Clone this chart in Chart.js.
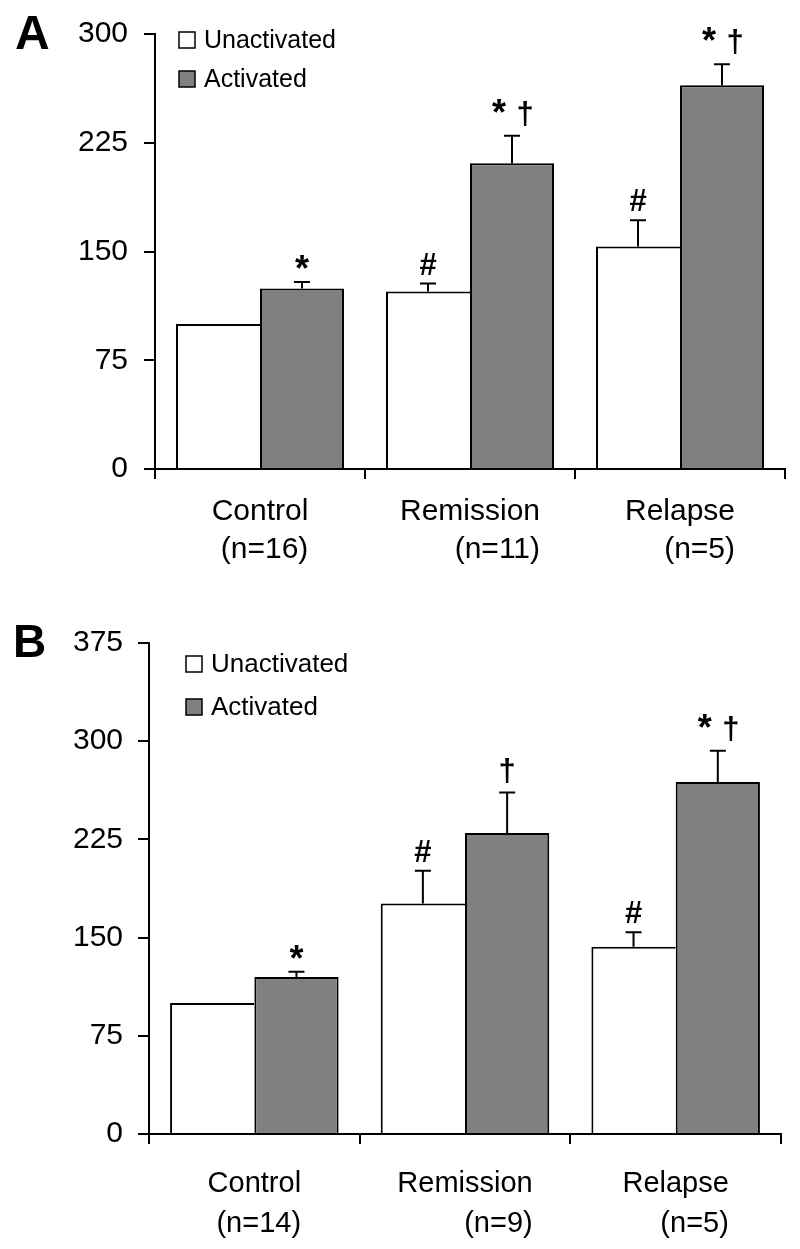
<!DOCTYPE html>
<html>
<head>
<meta charset="utf-8">
<script src="https://cdn.jsdelivr.net/npm/chart.js@4.4.1/dist/chart.umd.min.js"></script>
<style>
  html, body { margin: 0; padding: 0; background: #fff; }
  #boxA { position: absolute; left: 0; top: 0; width: 800px; height: 600px; }
  #boxB { position: absolute; left: 0; top: 600px; width: 800px; height: 649px; }
</style>
</head>
<body>
<div id="boxA"><canvas id="chartA" width="800" height="600"></canvas></div>
<div id="boxB"><canvas id="chartB" width="800" height="649"></canvas></div>
<script>
// data
var groups = ['Control', 'Remission', 'Relapse']
var seriesNames = ['Unactivated', 'Activated']

var nLabelsA = ['(n=16)', '(n=11)', '(n=5)']
var yTicksA = [0, 75, 150, 225, 300]
var unactA = [100, 122.4, 153.5]
var unactErrA = [0, 5.5, 18]
var actA = [124.5, 210.8, 264.7]
var actErrA = [4.5, 19, 14.5]
var unactMarksA = ['', '#', '#']
var actMarksA = ['*', '* †', '* †']

var nLabelsB = ['(n=14)', '(n=9)', '(n=5)']
var yTicksB = [0, 75, 150, 225, 300, 375]
var unactB = [100, 176, 143]
var unactErrB = [0, 25, 11]
var actB = [120, 229.8, 268.8]
var actErrB = [4, 31, 24]
var unactMarksB = ['', '#', '#']
var actMarksB = ['*', '†', '* †']

var FONT = '"Liberation Sans", Arial, Helvetica, sans-serif'
var GREY = '#808080'

function markFont(s) {
  return 'bold ' + (s == '*' ? 36 : 31) + 'px ' + FONT
}

function drawMark(ctx, mark, x, top) {
  ctx.textAlign = 'center'
  ctx.textBaseline = 'alphabetic'
  var parts = mark.split(' ')
  if (parts.length == 2) {
    ctx.font = markFont(parts[0])
    ctx.fillText(parts[0], x - 13, top - 11)
    ctx.font = markFont(parts[1])
    ctx.fillText(parts[1], x + 13, top - 12)
    return
  }
  var gap = 1
  if (mark == '#') gap = 9
  if (mark == '†') gap = 12
  ctx.font = markFont(mark)
  ctx.fillText(mark, x, top - gap)
}

var extras = {
  id: 'extras',
  afterDatasetsDraw: function(chart, args, o) {
    var ctx = chart.ctx
    var y = chart.scales.y
    ctx.save()
    ctx.strokeStyle = '#000'
    ctx.fillStyle = '#000'
    ctx.lineWidth = 2
    chart.data.datasets.forEach(function(ds, di) {
      chart.getDatasetMeta(di).data.forEach(function(bar, i) {
        var err = ds.errors[i]
        var top = y.getPixelForValue(ds.data[i] + err)
        if (err) {
          ctx.beginPath()
          ctx.moveTo(bar.x, bar.y)
          ctx.lineTo(bar.x, top)
          ctx.moveTo(bar.x - 8, top)
          ctx.lineTo(bar.x + 8, top)
          ctx.stroke()
        }
        if (ds.marks[i]) drawMark(ctx, ds.marks[i], bar.x, top)
      })
    })
    ctx.restore()
  },
  afterDraw: function(chart, args, o) {
    var ctx = chart.ctx
    var x = chart.scales.x
    ctx.save()
    ctx.fillStyle = '#000'
    // panel letter
    ctx.font = 'bold ' + o.letterSize + 'px ' + FONT
    ctx.textAlign = 'left'
    ctx.textBaseline = 'alphabetic'
    ctx.fillText(o.letter, o.letterX, o.letterY)
    // legend
    ctx.font = o.legendSize + 'px ' + FONT
    ctx.textBaseline = 'middle'
    chart.data.datasets.forEach(function(ds, i) {
      var bx = o.legendX, by = o.legendY + i * o.legendStep
      ctx.fillStyle = ds.backgroundColor
      ctx.fillRect(bx, by, 16, 16)
      ctx.strokeStyle = '#000'
      ctx.lineWidth = 1.5
      ctx.strokeRect(bx, by, 16, 16)
      ctx.fillStyle = '#000'
      ctx.fillText(ds.label, bx + 25, by + 9)
    })
    // second line of the category labels, right aligned under the first
    ctx.font = o.xFont + 'px ' + FONT
    ctx.textAlign = 'right'
    ctx.textBaseline = 'middle'
    for (var i = 0; i < groups.length; i++) {
      var px = x.getPixelForTick(i)
      var w = ctx.measureText(groups[i]).width
      ctx.fillText(o.nLabels[i], px + w / 2, x.top + o.line2)
    }
    ctx.restore()
  }
}

function buildChart(id, o) {
  return new Chart(document.getElementById(id), {
    type: 'bar',
    data: {
      labels: groups,
      datasets: [{
        label: seriesNames[0],
        data: o.unact,
        errors: o.unactErr,
        marks: o.unactMarks,
        backgroundColor: '#ffffff',
        borderColor: '#000000',
        borderWidth: {top: 2, left: 2, right: 0, bottom: 0}
      }, {
        label: seriesNames[1],
        data: o.act,
        errors: o.actErr,
        marks: o.actMarks,
        backgroundColor: GREY,
        borderColor: '#000000',
        borderWidth: {top: 2, left: 2, right: 2, bottom: 0}
      }]
    },
    options: {
      responsive: false,
      animation: false,
      events: [],
      datasets: {bar: {barPercentage: 1, categoryPercentage: 0.8}},
      layout: {padding: {top: o.padTop, right: o.padRight, left: 0, bottom: 0}},
      plugins: {legend: {display: false}, tooltip: {enabled: false}, extras: o},
      scales: {
        x: {
          z: 1,
          grid: {offset: true, drawOnChartArea: false, color: '#000', lineWidth: 2, tickLength: 10},
          border: {color: '#000', width: 2},
          ticks: {color: '#000', font: {family: FONT, size: o.xFont}, padding: o.xPad, maxRotation: 0, autoSkip: false},
          afterFit: function(s) { s.height = o.xHeight }
        },
        y: {
          z: 1,
          min: o.yTicks[0],
          max: o.yTicks[o.yTicks.length - 1],
          afterBuildTicks: function(s) { s.ticks = o.yTicks.map(function(v) { return {value: v} }) },
          grid: {drawOnChartArea: false, color: '#000', lineWidth: 2, tickLength: 11},
          border: {color: '#000', width: 2},
          ticks: {color: '#000', font: {family: FONT, size: 30}, padding: o.yPad},
          afterFit: function(s) { s.width = o.yWidth }
        }
      }
    },
    plugins: [extras]
  })
}

buildChart('chartA', {
  unact: unactA, unactErr: unactErrA, unactMarks: unactMarksA,
  act: actA, actErr: actErrA, actMarks: actMarksA,
  yTicks: yTicksA, nLabels: nLabelsA,
  padTop: 33, padRight: 15, yWidth: 155, xHeight: 131,
  xFont: 30, xPad: 15, yPad: 16, line2: 81,
  letter: 'A', letterSize: 48, letterX: 15, letterY: 49,
  legendX: 179, legendY: 32, legendStep: 39, legendSize: 25
})

buildChart('chartB', {
  unact: unactB, unactErr: unactErrB, unactMarks: unactMarksB,
  act: actB, actErr: actErrB, actMarks: actMarksB,
  yTicks: yTicksB, nLabels: nLabelsB,
  padTop: 43, padRight: 19, yWidth: 149, xHeight: 115,
  xFont: 29, xPad: 23, yPad: 15, line2: 90,
  letter: 'B', letterSize: 46, letterX: 13, letterY: 57,
  legendX: 186, legendY: 56, legendStep: 43, legendSize: 26
})
</script>
</body>
</html>
